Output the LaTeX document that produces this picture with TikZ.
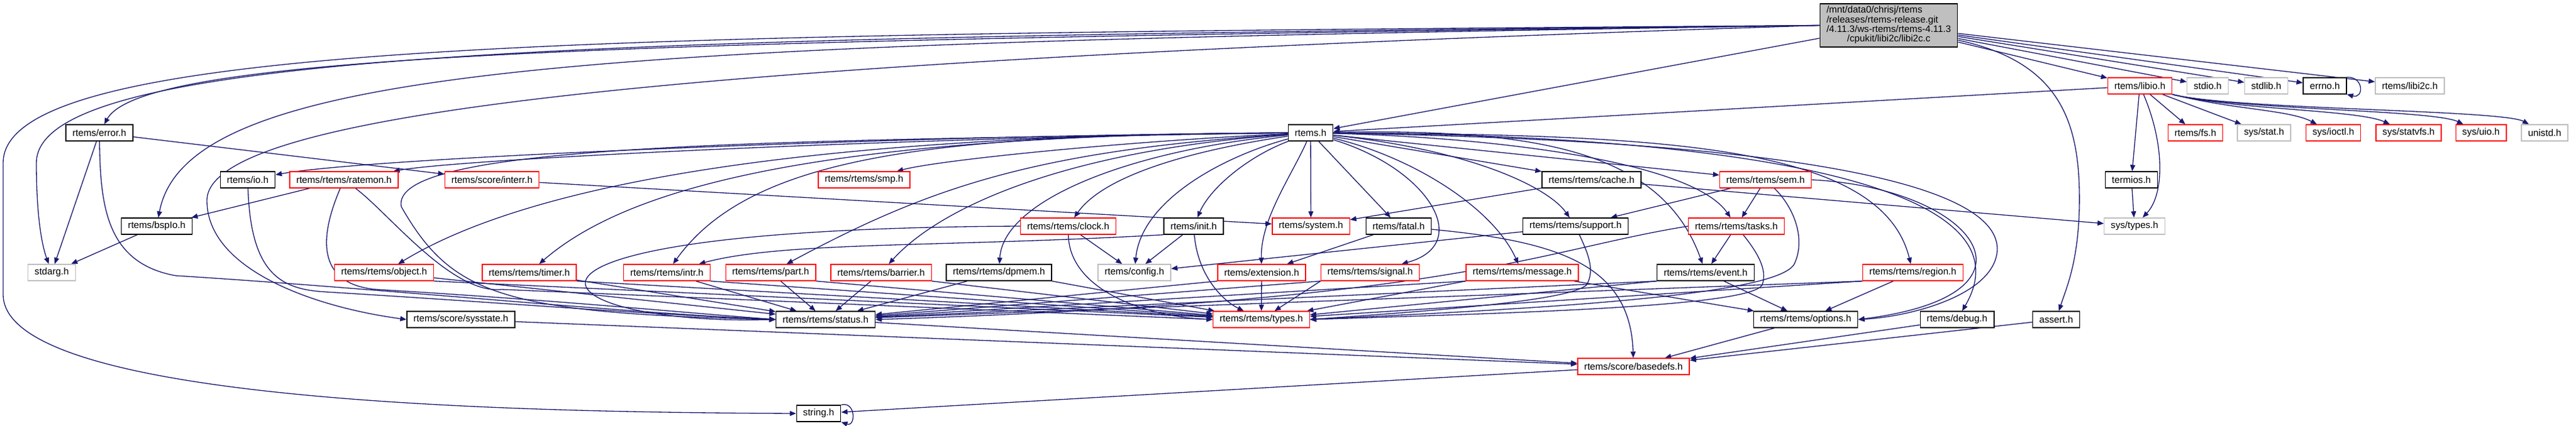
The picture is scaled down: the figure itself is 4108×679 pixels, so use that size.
\documentclass[tikz,border=0pt]{standalone}
\usepackage{fontspec}
\setmainfont{Liberation Sans}
\usetikzlibrary{arrows.meta,backgrounds}
\definecolor{edgeblue}{HTML}{191970}
\definecolor{grey75}{HTML}{BFBFBF}
\tikzset{
  hdr/.style={draw=black,fill=white,line width=0.8pt,minimum height=5.2mm,inner xsep=2.1mm,inner ysep=0pt,font=\fontsize{8.6}{10}\selectfont},
  hdrred/.style={hdr,draw=red},
  hdrsys/.style={hdr,draw=grey75},
  inc/.style={draw=edgeblue,line width=0.75pt,-{Triangle[length=2mm,width=1.6mm]}}
}
\begin{document}
\begin{tikzpicture}[x=0.2mm,y=-0.2mm]
\useasboundingbox (0,0) rectangle (4108,679);
\node[hdr,fill=grey75,minimum width=43.6mm,minimum height=13.8mm,font=\fontsize{8.6}{8.3}\selectfont] (main) at (3012,40.5)
  {\begin{tabular}{@{}l@{}}/mnt/data0/chrisj/rtems\\/releases/rtems-release.git\\/4.11.3/ws-rtems/rtems-4.11.3\\\multicolumn{1}{@{}c@{}}{/cpukit/libi2c/libi2c.c}\end{tabular}};
\node[hdrred] (libio) at (3412.5,137) {rtems/libio.h};
\node[hdrsys] (stdio) at (3520.5,137) {stdio.h};
\node[hdrsys] (stdlib) at (3614,137) {stdlib.h};
\node[hdr] (errno) at (3707.5,137) {errno.h};
\node[hdrsys] (libitwoc) at (3843,137) {rtems/libi2c.h};
\node[hdr] (error) at (158.5,212) {rtems/error.h};
\node[hdr] (rtems) at (2090,212) {rtems.h};
\node[hdrred] (fs) at (3501,212) {rtems/fs.h};
\node[hdrsys] (sysstat) at (3610.5,212) {sys/stat.h};
\node[hdrred] (ioctl) at (3721,212) {sys/ioctl.h};
\node[hdrred] (statvfs) at (3841,212) {sys/statvfs.h};
\node[hdrred] (uio) at (3956.5,212) {sys/uio.h};
\node[hdrsys] (unistd) at (4058,212) {unistd.h};
\node[hdr] (io) at (395,287) {rtems/io.h};
\node[hdrred] (ratemon) at (548.5,287) {rtems/rtems/ratemon.h};
\node[hdrred] (interr) at (784.5,287) {rtems/score/interr.h};
\node[hdrred] (smp) at (1378,287) {rtems/rtems/smp.h};
\node[hdr] (cache) at (2538,287) {rtems/rtems/cache.h};
\node[hdrred] (sem) at (2815.5,287) {rtems/rtems/sem.h};
\node[hdr] (termios) at (3399,287) {termios.h};
\node[hdr] (bspio) at (250,361) {rtems/bspIo.h};
\node[hdrred] (clock) at (1703.5,361) {rtems/rtems/clock.h};
\node[hdr] (init) at (1903.5,361) {rtems/init.h};
\node[hdrred] (system) at (2090.5,361) {rtems/system.h};
\node[hdr] (fatal) at (2230.5,361) {rtems/fatal.h};
\node[hdr] (support) at (2512.5,361) {rtems/rtems/support.h};
\node[hdrred] (tasks) at (2769,361) {rtems/rtems/tasks.h};
\node[hdrsys] (systypes) at (3404,361) {sys/types.h};
\node[hdrsys] (stdarg) at (82.5,435) {stdarg.h};
\node[hdrred] (object) at (612.5,435) {rtems/rtems/object.h};
\node[hdrred] (timer) at (844,435) {rtems/rtems/timer.h};
\node[hdrred] (intr) at (1063.5,435) {rtems/rtems/intr.h};
\node[hdrred] (part) at (1229,435) {rtems/rtems/part.h};
\node[hdrred] (barrier) at (1405,435) {rtems/rtems/barrier.h};
\node[hdr] (dpmem) at (1593,435) {rtems/rtems/dpmem.h};
\node[hdrsys] (config) at (1809,435) {rtems/config.h};
\node[hdrred] (extension) at (2012,435) {rtems/extension.h};
\node[hdrred] (signal) at (2185,435) {rtems/rtems/signal.h};
\node[hdrred] (message) at (2427.5,435) {rtems/rtems/message.h};
\node[hdr] (event) at (2720,435) {rtems/rtems/event.h};
\node[hdrred] (region) at (3050.5,435) {rtems/rtems/region.h};
\node[hdr] (sysstate) at (735,510) {rtems/score/sysstate.h};
\node[hdr] (status) at (1316.5,510) {rtems/rtems/status.h};
\node[hdrred] (types) at (2011.5,510) {rtems/rtems/types.h};
\node[hdr] (options) at (2879.5,510) {rtems/rtems/options.h};
\node[hdr] (debug) at (3121,510) {rtems/debug.h};
\node[hdr] (assert) at (3279,510) {assert.h};
\node[hdrred] (basedefs) at (2605,585) {rtems/score/basedefs.h};
\node[hdr] (string) at (1305.5,660) {string.h};

\begin{scope}[on background layer]
\foreach \hd in {rtems,libio,stdio,stdlib,errno,libitwoc}
  \draw[inc] (main) -- (\hd);
\draw[inc] (main.west) .. controls (1000,55) and (5,60) .. (5,260) -- (5,470) .. controls (5,640) and (800,658) .. (string.west);
\draw[inc] (main.west) .. controls (1000,60) and (58,75) .. (58,260) .. controls (58,360) and (70,400) .. (stdarg);
\draw[inc] (main.west) .. controls (1000,65) and (230,85) .. (error);
\draw[inc] (main.west) .. controls (1000,70) and (300,95) .. (bspio);
\draw[inc] (main.west) .. controls (1200,95) and (330,170) .. (330,320) .. controls (330,430) and (500,490) .. (sysstate.west);
\draw[inc] (main) .. controls (3290,100) and (3318,200) .. (3316,330) .. controls (3314,420) and (3295,460) .. (assert);

\foreach \hd in {fs,sysstat,termios}
  \draw[inc] (libio) -- (\hd);
\foreach \hd/\cx in {ioctl/3650,statvfs/3760,uio/3880,unistd/3990}
  \draw[inc] (libio.south east) .. controls (3560,175) and (\cx,175) .. (\hd);
\draw[inc] (libio) -- (rtems);
\draw[inc] (libio) .. controls (3452,230) and (3452,310) .. (systypes);
\draw[inc] (termios) -- (systypes);
\draw[inc] (errno.north east) .. controls (3770,122) and (3770,158) .. (errno.south east);

\draw[inc] (error) -- (stdarg);
\draw[inc] (error) -- (interr);
\draw[inc] (error) .. controls (160,330) and (170,420) .. (280,440) .. controls (600,460) and (1000,500) .. (status.west);
\draw[inc] (bspio) -- (stdarg);
\draw[inc] (io) .. controls (400,440) and (450,462) .. (520,466) .. controls (800,483) and (1000,500) .. (status.west);
\draw[inc] (ratemon) -- (bspio);
\draw[inc] (ratemon) .. controls (500,400) and (520,455) .. (600,462) .. controls (900,480) and (1100,500) .. (status.west);
\draw[inc] (ratemon) .. controls (620,340) and (720,470) .. (800,462) -- (types.west);
\draw[inc] (interr) -- (system);

\foreach \hd/\ax/\ay/\bx/\by in {io/1500/215/600/250, ratemon/1500/218/750/252, smp/1800/225/1500/255,
    object/1300/215/850/290, timer/1300/215/1000/300, intr/1500/215/1200/245, part/1650/240/1480/300,
    barrier/1700/240/1500/330, dpmem/1800/240/1600/320, clock/1900/240/1760/280, config/1950/250/1820/320,
    init/1990/250/1930/300, extension/2060/280/2010/350, signal/2280/270/2350/390, message/2250/250/2380/330,
    support/2350/240/2470/300, tasks/2400/220/2700/260, event/2450/205/2650/240, region/2650/215/3000/230,
    debug/2750/215/3250/290}
  \draw[inc] (rtems) .. controls (\ax,\ay) and (\bx,\by) .. (\hd);
\foreach \hd in {system,fatal,cache,sem}
  \draw[inc] (rtems) -- (\hd);
\draw[inc] (rtems) .. controls (2900,225) and (3190,300) .. (3185,400) .. controls (3180,470) and (3050,505) .. (options.east);
\draw[inc] (rtems.west) .. controls (1200,225) and (620,230) .. (640,330) .. controls (720,470) and (800,500) .. (status.west);

\draw[inc] (cache) -- (system);
\draw[inc] (cache) -- (systypes);
\draw[inc] (sem) -- (support);
\draw[inc] (sem) -- (tasks);
\draw[inc] (sem.east) .. controls (3150,300) and (3280,470) .. (options.east);
\draw[inc] (sem) .. controls (2860,330) and (2880,380) .. (2862,420) .. controls (2840,475) and (2400,495) .. (types.east);

\draw[inc] (clock) -- (config);
\draw[inc] (clock.west) .. controls (700,365) and (850,520) .. (status.west);
\draw[inc] (clock) .. controls (1705,460) and (1820,505) .. (types.west);
\draw[inc] (init) -- (config);
\draw[inc] (init) .. controls (1910,440) and (1950,480) .. (types);
\draw[inc] (init.south west) .. controls (1500,395) and (1250,385) .. (intr);
\draw[inc] (fatal) -- (extension);
\draw[inc] (fatal) .. controls (2480,385) and (2600,420) .. (basedefs);
\draw[inc] (support) -- (config);
\draw[inc] (support) .. controls (2530,400) and (2545,430) .. (2530,455) .. controls (2500,480) and (2300,495) .. (types.east);
\draw[inc] (tasks) -- (event);
\draw[inc] (tasks.west) .. controls (2450,400) and (2330,480) .. (status.east);
\draw[inc] (tasks) .. controls (2800,400) and (2820,430) .. (2810,455) .. controls (2790,490) and (2400,500) .. (types.east);

\foreach \hd in {object,timer,intr,part,barrier,dpmem} {
  \draw[inc] (\hd) -- (status);
  \draw[inc] (\hd.south east) -- (types);
}
\draw[inc] (extension) -- (types);
\draw[inc] (extension.south west) -- (status);
\foreach \hd in {signal,message,event,region} {
  \draw[inc] (\hd.south west) -- (types);
  \draw[inc] (\hd.south west) -- (status);
}
\foreach \hd in {message,event,region}
  \draw[inc] (\hd) -- (options);

\foreach \hd in {sysstate,status,options,debug,assert}
  \draw[inc] (\hd) -- (basedefs);
\draw[inc] (basedefs) -- (string);
\draw[inc] (string.north east) .. controls (1365,640) and (1365,682) .. (string.south east);
\end{scope}
\end{tikzpicture}
\end{document}
